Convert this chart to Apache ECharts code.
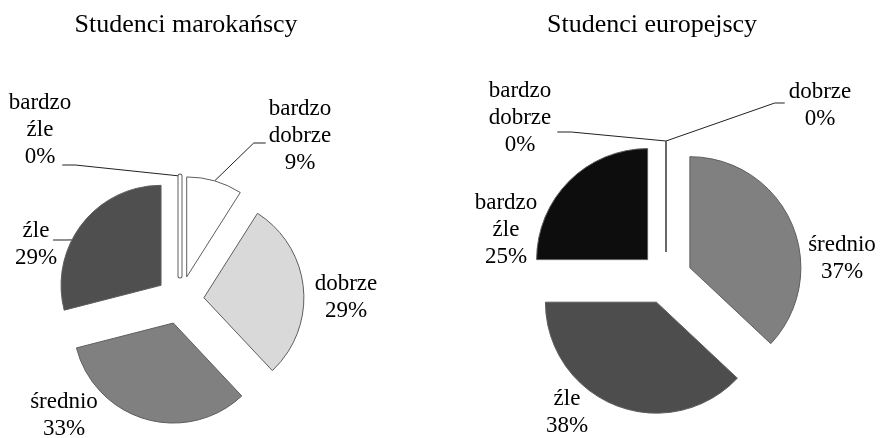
<!DOCTYPE html>
<html>
<head>
<meta charset="utf-8">
<script src="https://cdn.jsdelivr.net/npm/echarts@6/dist/echarts.min.js"></script>
<style>
  html, body { margin: 0; padding: 0; background: #fff; }
  #chart { width: 881px; height: 438px; }
</style>
</head>
<body>
<div id="chart"></div>
<script>
// kolejnosc jak w arkuszu: od godziny 12, zgodnie z ruchem wskazowek
var categories = ['bardzo dobrze', 'dobrze', 'średnio', 'źle', 'bardzo źle'];
var titles = ['Studenci marokańscy', 'Studenci europejscy'];
var moroccanValues = [9, 29, 33, 29, 0];
var europeanValues = [0, 0, 37, 38, 25];

var moroccanColors = ['#ffffff', '#d9d9d9', '#808080', '#4f4f4f', '#ffffff'];
var europeanColors = ['#ffffff', '#ffffff', '#808080', '#4d4d4d', '#0d0d0d'];

var FONT = 'Liberation Serif';

// geometria + polozenie etykiet (srodek bloku tekstu)
var pies = [
  {
    title: titles[0], titleX: 186, values: moroccanValues, colors: moroccanColors,
    center: [180, 300], radius: 100, explode: 24,
    zeroBorder: 5, zeroInner: 3,
    labels: [
      { pos: [300, 136], line: { side: 'left', gap: 3, dy: 7, len2: 12 } },
      { pos: [346, 297] },
      { pos: [64, 415] },
      { pos: [36, 244], line: { side: 'right', gap: -4, dy: -4, len2: 13, angle: 297 } },
      { pos: [40, 130], line: { side: 'right', gap: -9, dy: 35, len2: 13 } }
    ]
  },
  {
    title: titles[1], titleX: 652, values: europeanValues, colors: europeanColors,
    center: [666, 278], radius: 111, explode: 26,
    zeroBorder: 1, zeroInner: 0,
    labels: [
      { pos: [520, 118], line: { side: 'right', gap: 6, dy: 14, len2: 14 } },
      { pos: [820, 105], line: { side: 'left', gap: 4, dy: -2, len2: 10 } },
      { pos: [842, 258] },
      { pos: [567, 412] },
      { pos: [506, 230] }
    ]
  }
];

function rad(a) { return a * Math.PI / 180; }

var series = [];
var seriesMeta = [];

function labelLayout(params) {
  var meta = seriesMeta[params.seriesIndex];
  if (!meta || meta.slice < 0) return {};
  var pie = pies[meta.pie];
  var lab = pie.labels[meta.slice];
  var x = lab.pos[0], y = lab.pos[1];
  var out = { x: x, y: y, align: 'center', verticalAlign: 'middle' };
  if (lab.line) {
    var L = lab.line;
    var half = params.labelRect.width / 2;
    var ex = L.side === 'left' ? x - half - L.gap : x + half + L.gap;
    var ey = y + L.dy;
    var bx = L.side === 'left' ? ex - L.len2 : ex + L.len2;
    var a = rad(L.angle != null ? L.angle : meta.mid);
    var ax = meta.cx + pie.radius * Math.sin(a);
    var ay = meta.cy - pie.radius * Math.cos(a);
    out.labelLinePoints = [[ax, ay], [bx, ey], [ex, ey]];
  }
  return out;
}

function labelStyle() {
  return {
    show: false,
    position: 'outside',
    overflow: 'none',
    edgeDistance: -2000,
    formatter: function (prm) {
      return '{t|' + prm.name.replace(' ', '\n') + '\n' + prm.value + '%}';
    },
    fontFamily: FONT,
    fontSize: 23,
    lineHeight: 27,
    color: '#000',
    rich: {
      t: { fontFamily: FONT, fontSize: 23, lineHeight: 27, color: '#000' }
    }
  };
}

pies.forEach(function (pie, p) {
  var total = pie.values.reduce(function (s, v) { return s + v; }, 0);
  var acc = 0;
  pie.values.forEach(function (v, i) {
    var a0 = acc / total * 360;
    acc += v;
    var a1 = acc / total * 360;
    var mid = (a0 + a1) / 2;
    // kazdy wycinek wysuniety wzdluz swojej dwusiecznej
    var cx = pie.center[0] + pie.explode * Math.sin(rad(mid));
    var cy = pie.center[1] - pie.explode * Math.cos(rad(mid));
    var lab = pie.labels[i];
    var zero = v === 0;

    function makeSeries(border, borderW, showLabel) {
      return {
        type: 'pie',
        animation: false,
        center: [cx, cy],
        radius: pie.radius,
        startAngle: 90,
        clockwise: true,
        labelLayout: labelLayout,
        label: labelStyle(),
        labelLine: { show: false, lineStyle: { color: '#222', width: 1 } },
        data: pie.values.map(function (val, j) {
          if (j !== i) {
            return {
              name: categories[j], value: val,
              itemStyle: { color: 'rgba(0,0,0,0)', borderWidth: 0 }
            };
          }
          var item = {
            name: categories[j], value: val,
            itemStyle: { color: pie.colors[j], borderColor: border, borderWidth: borderW }
          };
          if (showLabel) {
            item.label = { show: true };
            if (lab.line) item.labelLine = { show: true };
          }
          return item;
        })
      };
    }

    if (zero) {
      series.push(makeSeries('#5e5e5e', pie.zeroBorder, true));
      seriesMeta.push({ pie: p, slice: i, cx: cx, cy: cy, mid: mid });
      if (pie.zeroInner) {
        series.push(makeSeries('#ffffff', pie.zeroInner, false));
        seriesMeta.push({ pie: p, slice: -1 });
      }
    } else {
      series.push(makeSeries('#5e5e5e', 1, true));
      seriesMeta.push({ pie: p, slice: i, cx: cx, cy: cy, mid: mid });
    }
  });
});

var chart = echarts.init(document.getElementById('chart'));
chart.setOption({
  backgroundColor: '#ffffff',
  textStyle: { fontFamily: FONT },
  title: pies.map(function (pie) {
    return {
      text: pie.title,
      left: pie.titleX,
      top: 12,
      padding: 0,
      textAlign: 'center',
      textStyle: { fontFamily: FONT, fontSize: 26, fontWeight: 'normal', color: '#000' }
    };
  }),
  series: series
});
</script>
</body>
</html>
